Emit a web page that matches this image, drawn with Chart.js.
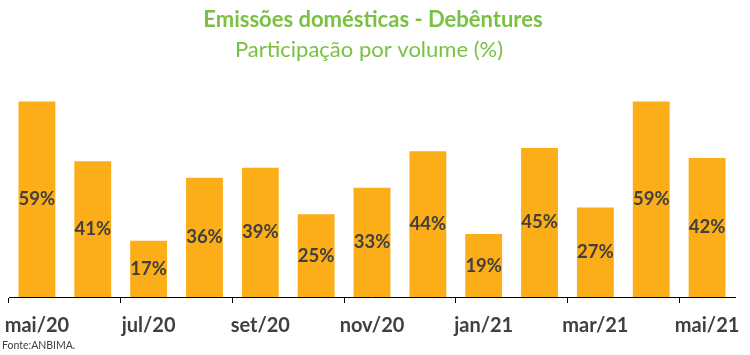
<!DOCTYPE html>
<html>
<head>
<meta charset="utf-8">
<script src="https://cdn.jsdelivr.net/npm/chart.js@4/dist/chart.umd.min.js"></script>
<style>
html,body{margin:0;padding:0;background:#fff;}
#wrap{position:relative;width:750px;height:355px;}
</style>
</head>
<body>
<div id="wrap"><canvas id="c" width="750" height="355"></canvas></div>
<script>
const categories = ['mai/20','jun/20','jul/20','ago/20','set/20','out/20','nov/20','dez/20','jan/21','fev/21','mar/21','abr/21','mai/21'];
const values = [59, 41, 17, 36, 39, 25, 33, 44, 19, 45, 27, 59, 42];
const titleText = 'Emissões domésticas - Debêntures';
const subtitleText = 'Participação por volume (%)';
const sourceText = 'Fonte:ANBIMA.';

const FONT = "Lato, 'Open Sans', 'Liberation Sans', sans-serif";
const GREEN = '#7AC143';
const DARK = '#404040';

const textPlugin = {
  id: 'texts',
  afterDatasetsDraw(chart) {
    const ctx = chart.ctx;
    const meta = chart.getDatasetMeta(0);
    ctx.save();
    ctx.fillStyle = DARK;
    ctx.font = "bold 18.5px " + FONT;
    ctx.textAlign = 'center';
    ctx.textBaseline = 'middle';
    meta.data.forEach((bar, i) => {
      const mid = (bar.y + bar.base) / 2;
      ctx.fillText(values[i] + '%', bar.x, mid);
    });
    ctx.restore();
  },
  afterDraw(chart) {
    const ctx = chart.ctx;
    ctx.save();
    ctx.textAlign = 'center';
    ctx.textBaseline = 'middle';
    ctx.fillStyle = GREEN;
    ctx.font = "bold 22px " + FONT;
    ctx.fillText(titleText, 373, 20);
    ctx.font = "22px " + FONT;
    ctx.fillText(subtitleText, 369, 50);
    ctx.textAlign = 'left';
    ctx.fillStyle = DARK;
    ctx.font = "10.5px " + FONT;
    ctx.fillText(sourceText, 2, 346);
    ctx.restore();
  }
};

new Chart(document.getElementById('c'), {
  type: 'bar',
  data: {
    labels: categories,
    datasets: [{
      data: values,
      backgroundColor: '#FBAE17',
      borderWidth: 0,
      categoryPercentage: 1,
      barPercentage: 0.66
    }]
  },
  options: {
    responsive: false,
    animation: false,
    devicePixelRatio: 1,
    layout: { padding: { top: 85, left: 9, right: 15, bottom: 6 } },
    plugins: { legend: { display: false }, tooltip: { enabled: false }, title: { display: false } },
    scales: {
      x: {
        offset: true,
        afterFit: function(scale) { scale.paddingLeft = 0; scale.paddingRight = 0; },
        border: { display: true, color: '#000', width: 1 },
        grid: {
          offset: true,
          drawOnChartArea: false,
          drawTicks: true,
          tickLength: 6,
          color: (c) => (c.index % 2 === 0 ? '#000' : 'rgba(0,0,0,0)')
        },
        ticks: {
          autoSkip: false,
          maxRotation: 0,
          padding: 11,
          color: DARK,
          font: { family: FONT, size: 20, weight: 'bold' },
          callback: function(v, i) { return i % 2 === 0 ? categories[i] : ''; }
        }
      },
      y: {
        display: false,
        min: 0,
        max: 64
      }
    }
  },
  plugins: [textPlugin]
});
</script>
</body>
</html>
